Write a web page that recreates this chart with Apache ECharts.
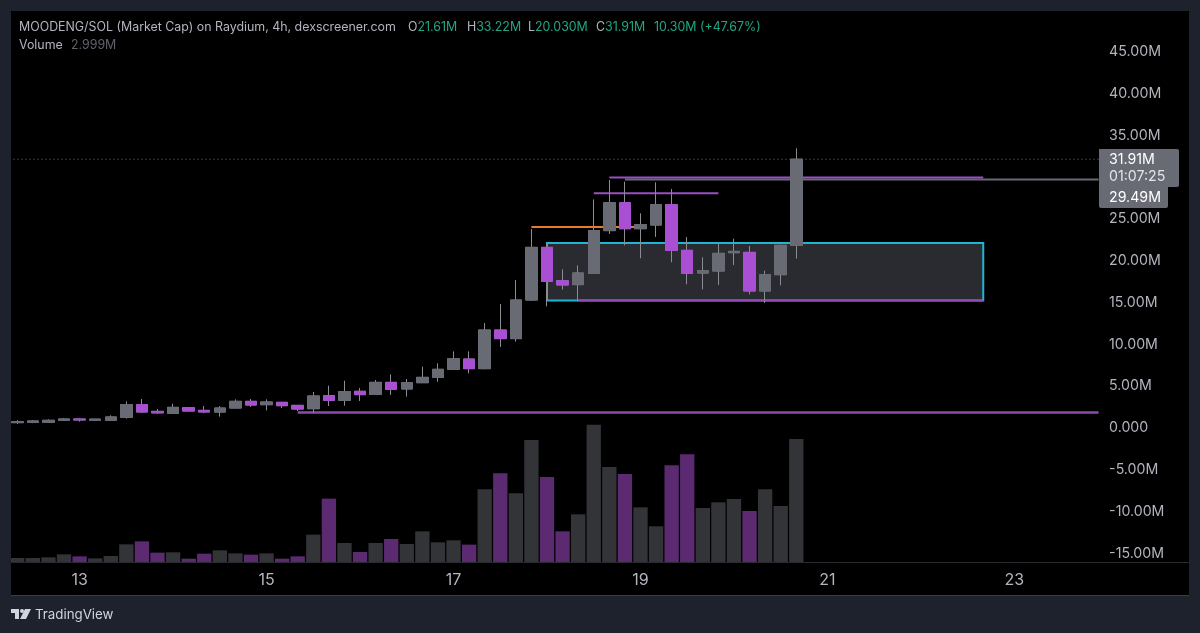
<!DOCTYPE html>
<html>
<head>
<meta charset="utf-8">
<title>MOODENG/SOL</title>
<script src="https://cdn.jsdelivr.net/npm/echarts@6/dist/echarts.min.js"></script>
<style>
  html, body { margin: 0; padding: 0; background: #1e222d; }
  #chart { width: 1200px; height: 633px; }
</style>
</head>
<body>
<div id="chart"></div>
<script>
// 4h bars, the axis runs on past the last candle
const categories = [
  '12 08','12 12','12 16','12 20',
  '13 00','13 04','13 08','13 12','13 16','13 20',
  '14 00','14 04','14 08','14 12','14 16','14 20',
  '15 00','15 04','15 08','15 12','15 16','15 20',
  '16 00','16 04','16 08','16 12','16 16','16 20',
  '17 00','17 04','17 08','17 12','17 16','17 20',
  '18 00','18 04','18 08','18 12','18 16','18 20',
  '19 00','19 04','19 08','19 12','19 16','19 20',
  '20 00','20 04','20 08','20 12','20 16','20 20',
  '21 00','21 04','21 08','21 12','21 16','21 20',
  '22 00','22 04','22 08','22 12','22 16','22 20',
  '23 00','23 04','23 08','23 12','23 16','23 20'
];
const dayTicks = ['13', '15', '17', '19', '21', '23'];

// market cap in millions
const opens = [0.40,0.44,0.45,0.68,0.84,0.70,0.68,1.04,2.55,1.75,1.52,2.19,1.87,1.67,2.15,2.95,2.55,2.83,2.47,2.07,3.63,3.07,4.15,3.79,5.22,
  4.43,5.18,5.82,6.78,8.01,6.86,11.48,10.45,15.07,21.37,17.38,16.91,18.26,23.37,26.71,23.60,24.04,26.47,21.01,18.30,18.54,20.73,20.77,16.15,18.10,21.61];
const closes = [0.52,0.60,0.68,0.84,0.72,0.82,1.08,2.55,1.67,1.57,2.23,1.79,1.68,2.15,2.95,2.51,2.87,2.43,2.03,3.59,3.07,4.11,3.75,5.22,4.39,
  5.18,5.82,6.78,8.05,6.86,11.48,10.45,15.07,21.37,17.30,16.87,18.30,23.37,26.71,23.60,24.08,26.47,21.01,18.26,18.58,20.65,20.89,16.15,18.10,21.61,31.91];
const lows = [0.25,0.34,0.36,0.60,0.52,0.66,0.60,0.88,1.60,1.47,1.48,1.76,1.55,1.12,2.12,2.27,1.87,2.15,1.79,1.60,2.39,2.43,2.99,3.75,3.71,
  3.51,5.15,5.30,6.75,6.30,6.78,9.45,10.09,14.95,14.31,16.31,14.91,18.20,22.97,21.61,20.06,22.61,19.58,16.95,16.35,16.87,19.26,15.75,14.71,16.83,20.03];
const highs = [0.70,0.70,0.80,0.96,0.92,0.86,1.28,2.95,3.23,2.03,2.67,2.23,2.39,2.39,3.19,3.23,3.19,2.87,2.50,4.07,4.82,5.42,4.55,5.50,6.18,
  5.62,7.10,7.50,8.93,8.93,12.32,14.59,17.46,23.56,21.90,18.74,19.22,27.11,29.43,29.23,25.44,29.15,28.35,22.61,20.18,21.85,22.41,21.53,18.58,21.70,33.22];
const volumes = [0.098,0.098,0.114,0.187,0.138,0.089,0.146,0.431,0.504,0.228,0.236,0.081,0.203,0.285,0.211,0.179,0.211,0.081,0.138,0.667,1.545,0.463,0.244,0.463,0.561,
  0.439,0.748,0.480,0.528,0.423,1.772,2.163,1.675,2.976,2.073,0.748,1.163,3.350,2.317,2.146,1.333,0.870,2.358,2.626,1.317,1.455,1.537,1.244,1.772,1.366,2.999];

const priceTicks = [45, 40, 35, 30, 25, 20, 15, 10, 5, 0, -5, -10, -15];
const priceTickLabels = ['45.00M','40.00M','35.00M','','25.00M','20.00M','15.00M','10.00M','5.00M','0.000','-5.00M','-10.00M','-15.00M'];

// drawings, as [bar index, price]
const boxCorners = [[34, 15], [62, 21.9]];
const floorLine = [[18, 1.6], [69.4, 1.6]];
const boxBottomLine = [[36, 15], [62, 15]];
const orangeLine = [[33, 23.8], [40, 23.8]];
const shortTopLine = [[37, 27.83], [45, 27.83]];
const longTopLine = [[38, 29.72], [62, 29.72]];
const priceLine = [[39, 29.49], [69.4, 29.49]];
const lastCloseLine = [[-0.5, 31.91], [69.4, 31.91]];

const GRAY = '#686a74';
const PURPLE = '#a94fd3';
const WICK = '#8b8c92';
const TEXT = '#b2b5be';
const TEAL = '#22a585';
const FRAME = '#1e222d';
const FONT = 'Inter, "Liberation Sans", sans-serif';
const HEAD_FONT = '12.4px ' + FONT;
const TAG_FONT = '14.2px ' + FONT;

const wicks = opens.map(function (o, i) {
  return [o, closes[i], lows[i], highs[i]];
});
// bodies go over the wicks so purple candles keep their grey wick
const bodies = opens.map(function (o, i) {
  return [o, closes[i], Math.min(o, closes[i]), Math.max(o, closes[i])];
});
const volumeBars = volumes.map(function (v, i) {
  return {
    value: v,
    itemStyle: { color: closes[i] >= opens[i] ? '#333438' : '#5b2a70' }
  };
});

function drawing(data, color, width, type) {
  return {
    type: 'line',
    xAxisIndex: 2,
    yAxisIndex: 0,
    data: data,
    symbol: 'none',
    silent: true,
    z: 2,
    lineStyle: { color: color, width: width, type: type || 'solid', cap: 'butt' }
  };
}

function headText(x, y, text, fill) {
  return {
    type: 'text', z: 101, x: x, y: y,
    style: { text: text, fill: fill, font: HEAD_FONT, verticalAlign: 'middle' }
  };
}

function ohlcText(x, key, value) {
  return {
    type: 'text', z: 101, x: x, y: 27,
    style: {
      text: '{k|' + key + '}{v|' + value + '}',
      verticalAlign: 'middle',
      rich: {
        k: { fill: TEXT, font: HEAD_FONT },
        v: { fill: TEAL, font: HEAD_FONT }
      }
    }
  };
}

function tagText(y, text, fill) {
  return {
    type: 'text', z: 102, x: 1109, y: y,
    style: { text: text, fill: fill, font: TAG_FONT, verticalAlign: 'middle' }
  };
}

const chart = echarts.init(document.getElementById('chart'));

chart.setOption({
  animation: false,
  backgroundColor: '#000',
  grid: [
    { left: 9.5, top: 8, width: 1090.6, height: 585.2 },
    { left: 9.5, top: 398, width: 1090.6, height: 164 }
  ],
  xAxis: [
    { type: 'category', gridIndex: 0, data: categories, show: false },
    {
      type: 'category',
      gridIndex: 1,
      data: categories,
      axisLine: { show: false },
      axisTick: { show: false },
      axisLabel: {
        color: TEXT,
        fontFamily: FONT,
        fontSize: 16,
        margin: 10,
        interval: function (i, val) {
          return val.slice(3) === '00' && dayTicks.indexOf(val.slice(0, 2)) >= 0;
        },
        formatter: function (val) {
          return val.slice(0, 2);
        }
      }
    },
    { type: 'value', gridIndex: 0, min: -0.5, max: 69.5, show: false }
  ],
  yAxis: [
    {
      type: 'value',
      gridIndex: 0,
      position: 'right',
      min: -20,
      max: 50,
      interval: 5,
      axisLine: { show: false },
      axisTick: { show: false },
      splitLine: { show: false },
      axisLabel: {
        color: TEXT,
        fontFamily: FONT,
        fontSize: 14.2,
        margin: 9,
        align: 'left',
        // small line box pushes the text a touch below the tick
        verticalAlign: 'top',
        lineHeight: 4,
        customValues: priceTicks,
        formatter: function (val) {
          return priceTickLabels[priceTicks.indexOf(val)] || '';
        }
      }
    },
    { type: 'value', gridIndex: 1, min: 0, max: 4, show: false }
  ],
  series: [
    {
      type: 'bar',
      xAxisIndex: 1,
      yAxisIndex: 1,
      data: volumeBars,
      barWidth: '92%',
      silent: true
    },
    {
      type: 'line',
      xAxisIndex: 2,
      yAxisIndex: 0,
      data: boxCorners,
      symbol: 'none',
      silent: true,
      z: 1,
      lineStyle: { opacity: 0 },
      markArea: {
        silent: true,
        itemStyle: { color: '#2a2b30', borderColor: '#1fb6d3', borderWidth: 2 },
        data: [[{ coord: boxCorners[0] }, { coord: boxCorners[1] }]]
      }
    },
    drawing(floorLine, '#8d4bab', 2.5),
    drawing(boxBottomLine, '#9449b8', 2),
    drawing(orangeLine, '#e67a2e', 2),
    drawing(shortTopLine, '#9a4fc2', 2),
    drawing(priceLine, GRAY, 2),
    drawing(longTopLine, '#9a4fc2', 2),
    drawing(lastCloseLine, '#74767d', 1, [1, 3]),
    {
      type: 'candlestick',
      xAxisIndex: 0,
      yAxisIndex: 0,
      data: wicks,
      barWidth: 12,
      silent: true,
      z: 3,
      itemStyle: { color: GRAY, color0: GRAY, borderColor: WICK, borderColor0: WICK, borderWidth: 1 }
    },
    {
      type: 'candlestick',
      xAxisIndex: 0,
      yAxisIndex: 0,
      data: bodies,
      barWidth: 12,
      silent: true,
      z: 4,
      itemStyle: { color: GRAY, color0: PURPLE, borderColor: GRAY, borderColor0: PURPLE, borderWidth: 1 }
    }
  ],
  graphic: {
    elements: [
      // panel frame
      { type: 'rect', z: 100, shape: { x: 0, y: 0, width: 1200, height: 11 }, style: { fill: FRAME } },
      { type: 'rect', z: 100, shape: { x: 0, y: 0, width: 11, height: 633 }, style: { fill: FRAME } },
      { type: 'rect', z: 100, shape: { x: 1189, y: 0, width: 11, height: 633 }, style: { fill: FRAME } },
      { type: 'rect', z: 100, shape: { x: 0, y: 596, width: 1200, height: 37 }, style: { fill: FRAME } },
      { type: 'rect', z: 100, shape: { x: 11, y: 595, width: 1178, height: 1 }, style: { fill: '#3a3d46' } },
      { type: 'rect', z: 100, shape: { x: 11, y: 562, width: 1178, height: 1 }, style: { fill: '#2a2b30' } },

      // header
      headText(19, 27, 'MOODENG/SOL (Market Cap) on Raydium, 4h, dexscreener.com', TEXT),
      ohlcText(408, 'O', '21.61M'),
      ohlcText(467, 'H', '33.22M'),
      ohlcText(528, 'L', '20.030M'),
      ohlcText(596, 'C', '31.91M'),
      ohlcText(654, '', '10.30M (+47.67%)'),
      headText(19, 45, 'Volume', TEXT),
      headText(71, 45, '2.999M', '#5f626c'),

      // price tags
      { type: 'rect', z: 101, shape: { x: 1099, y: 149, width: 80, height: 38, r: [0, 2, 2, 0] }, style: { fill: GRAY } },
      { type: 'rect', z: 101, shape: { x: 1099, y: 187, width: 69, height: 21, r: [0, 0, 2, 2] }, style: { fill: GRAY } },
      tagText(159.5, '31.91M', '#fff'),
      tagText(177, '01:07:25', '#e4e5e9'),
      tagText(198, '29.49M', '#fff'),

      // TradingView mark
      { type: 'polygon', z: 101, shape: { points: [[11, 609], [19, 609], [19, 619], [15, 619], [15, 613], [11, 613]] }, style: { fill: '#d1d4dc' } },
      { type: 'circle', z: 101, shape: { cx: 22, cy: 611, r: 2 }, style: { fill: '#d1d4dc' } },
      { type: 'polygon', z: 101, shape: { points: [[25, 609], [31, 609], [26, 619], [20, 619]] }, style: { fill: '#d1d4dc' } },
      { type: 'text', z: 101, x: 35, y: 615, style: { text: 'TradingView', fill: '#d1d4dc', font: '13.3px ' + FONT, verticalAlign: 'middle' } }
    ]
  }
});
</script>
</body>
</html>
